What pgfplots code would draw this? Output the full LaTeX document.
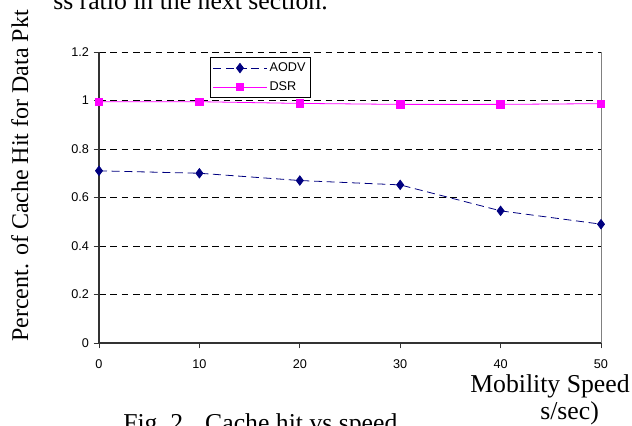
\documentclass[border=0pt]{standalone}
\usepackage{fontspec}
\setmainfont{Liberation Serif}
\setsansfont{Liberation Sans}
\usepackage{pgfplots}
\pgfplotsset{compat=1.18}
\definecolor{aodv}{RGB}{0,0,128}
\definecolor{dsr}{RGB}{255,0,255}
\begin{document}
\begin{tikzpicture}
\path[use as bounding box] (0,0) rectangle (474pt,318.75pt);
\clip (0,0) rectangle (474pt,318.75pt);
\begin{axis}[
  at={(74.25pt,61.5pt)}, anchor=south west,
  scale only axis, width=376.5pt, height=218.25pt,
  xmin=0, xmax=50, ymin=0, ymax=1.2,
  xtick={0,10,20,30,40,50},
  ytick={0,0.2,0.4,0.6,0.8,1,1.2},
  tick label style={font=\sffamily\fontsize{9.5}{11}\selectfont},
  xticklabel style={yshift=-5pt},
  /pgf/number format/assume math mode=true,
  axis lines*=left,
  axis line style={black!80, line width=0.8pt},
  tick align=outside, major tick length=4pt,
  tick style={black!80, line width=0.6pt},
  ymajorgrids,
  grid style={black, line width=0.5pt, dash pattern=on 5pt off 3.5pt},
  clip=false,
  legend style={at={(0.221,0.983)}, anchor=north west, draw=black, line width=0.6pt,
    font=\sffamily\fontsize{9.5}{11}\selectfont, inner sep=2pt, row sep=2pt},
  legend cell align=left,
  legend image code/.code={\draw[mark repeat=2,mark phase=2] plot coordinates {(0cm,0cm) (0.7cm,0cm) (1.4cm,0cm)};},
]
\addplot[aodv, dash pattern=on 6pt off 3.5pt, line width=0.6pt, mark=diamond*, mark size=3.5pt, mark options={solid}]
  coordinates {(0,0.71)(10,0.70)(20,0.67)(30,0.652)(40,0.545)(50,0.49)};
\addlegendentry{AODV}
\addplot[dsr, line width=0.6pt, mark=square*, mark size=2.8pt, mark options={solid}]
  coordinates {(0,0.995)(10,0.995)(20,0.988)(30,0.984)(40,0.984)(50,0.987)};
\addlegendentry{DSR}
\draw[gray, line width=0.6pt] (rel axis cs:1,0) -- (rel axis cs:1,1);
\end{axis}
\node[anchor=base west, inner sep=0pt, font=\fontsize{19.3}{22}\selectfont] at (39.75pt,311.25pt) {ss ratio in the next section.};
\node[rotate=90, anchor=base, inner sep=0pt, font=\fontsize{18}{21}\selectfont] at (21pt,186.75pt) {Percent. of Cache Hit for Data Pkt};
\node[anchor=base west, inner sep=0pt, font=\fontsize{19.3}{22}\selectfont] at (352.5pt,24pt) {Mobility Speed};
\node[anchor=base west, inner sep=0pt, font=\fontsize{19.3}{22}\selectfont] at (405pt,4.5pt) {s/sec)};
\node[anchor=base west, inner sep=0pt, font=\fontsize{19.3}{22}\selectfont] at (92.25pt,-4.5pt) {Fig.~2.\hspace{0.6em}Cache hit vs speed};
\end{tikzpicture}
\end{document}
